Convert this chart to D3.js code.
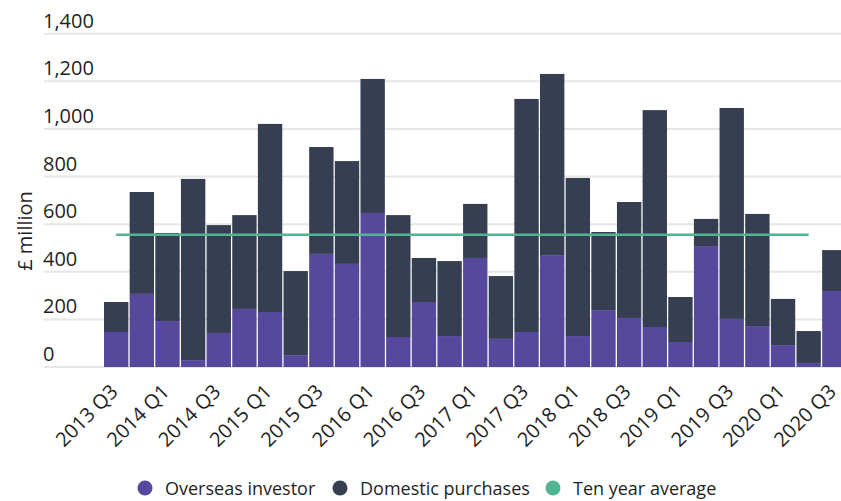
<!DOCTYPE html>
<html>
<head>
<meta charset="utf-8">
<script src="https://cdnjs.cloudflare.com/ajax/libs/d3/7.8.5/d3.min.js"></script>
<style>
  body { margin: 0; background: #fff; }
  svg { display: block; font-family: "Open Sans", sans-serif; }
  .tick-label { font-size: 20px; fill: #1f1f1f; }
  .legend-label { font-size: 18px; fill: #1f1f1f; }
</style>
</head>
<body>
<script>
var width = 841;
var height = 501;

// data, £ million
var quarters = ["2013 Q3","2013 Q4","2014 Q1","2014 Q2","2014 Q3","2014 Q4","2015 Q1","2015 Q2",
                "2015 Q3","2015 Q4","2016 Q1","2016 Q2","2016 Q3","2016 Q4","2017 Q1","2017 Q2",
                "2017 Q3","2017 Q4","2018 Q1","2018 Q2","2018 Q3","2018 Q4","2019 Q1","2019 Q2",
                "2019 Q3","2019 Q4","2020 Q1","2020 Q2","2020 Q3"];
var overseas = [147, 307, 193, 29, 143, 244, 231, 50, 475, 433, 647, 126, 273, 130, 458, 118,
                147, 470, 130, 239, 206, 168, 105, 508, 202, 172, 92, 17, 319];
var domestic = [126, 428, 370, 761, 453, 394, 790, 353, 449, 432, 563, 512, 185, 315, 227, 264,
                979, 761, 664, 328, 487, 911, 189, 114, 886, 471, 194, 134, 172];
var tenYearAvg = [556, 556, 556, 556, 556, 556, 556, 556, 556, 556, 556, 556, 556, 556, 556, 556,
                  556, 556, 556, 556, 556, 556, 556, 556, 556, 556, 556, 556, null];
var yTicks = [0, 200, 400, 600, 800, 1000, 1200, 1400];
var xLabels = quarters.filter(function(d, i) { return i % 2 == 0; });

var legendItems = [
  { name: "Overseas investor", color: "#56499d" },
  { name: "Domestic purchases", color: "#353f51" },
  { name: "Ten year average", color: "#4fb592" }
];

var svg = d3.select("body").append("svg")
  .attr("width", width)
  .attr("height", height);

var x = d3.scaleBand()
  .domain(quarters)
  .range([104, 846.5])
  .paddingInner(0.05)
  .paddingOuter(0);

var y = d3.scaleLinear()
  .domain([0, 1400])
  .range([367, 33.7]);

// gridlines + labels
var grid = svg.append("g");
grid.selectAll("line")
  .data(yTicks)
  .enter()
  .append("line")
  .attr("x1", 44)
  .attr("x2", width)
  .attr("y1", function(d) { return y(d); })
  .attr("y2", function(d) { return y(d); })
  .attr("stroke", "#e6e6e6")
  .attr("stroke-width", 2);

grid.selectAll("text")
  .data(yTicks)
  .enter()
  .append("text")
  .attr("class", "tick-label")
  .attr("x", 43)
  .attr("y", function(d) { return y(d) - 6; })
  .text(function(d) { return d3.format(",")(d); });

svg.append("text")
  .attr("class", "tick-label")
  .attr("transform", "translate(32,231) rotate(-90)")
  .attr("text-anchor", "middle")
  .text("£ million");

// stacked bars
var rows = quarters.map(function(q, i) {
  return { quarter: q, overseas: overseas[i], domestic: domestic[i] };
});
var stack = d3.stack().keys(["overseas", "domestic"]);
var series = stack(rows);

svg.append("g")
  .selectAll("g")
  .data(series)
  .enter()
  .append("g")
  .attr("fill", function(d, i) { return legendItems[i].color; })
  .selectAll("rect")
  .data(function(d) { return d; })
  .enter()
  .append("rect")
  .attr("x", function(d) { return x(d.data.quarter); })
  .attr("width", x.bandwidth())
  .attr("y", function(d) { return y(d[1]); })
  .attr("height", function(d) { return y(d[0]) - y(d[1]); });

// ten year average
var line = d3.line()
  .defined(function(d) { return d != null; })
  .x(function(d, i) { return x(quarters[i]) + x.bandwidth() / 2; })
  .y(function(d) { return y(d); });

svg.append("path")
  .datum(tenYearAvg)
  .attr("fill", "none")
  .attr("stroke", legendItems[2].color)
  .attr("stroke-width", 2.5)
  .attr("d", line);

// x labels
svg.append("g")
  .selectAll("text")
  .data(xLabels)
  .enter()
  .append("text")
  .attr("class", "tick-label")
  .attr("text-anchor", "end")
  .attr("transform", function(d) {
    return "translate(" + (x(d) + x.bandwidth() / 2 + 3) + ",393) rotate(-45)";
  })
  .text(function(d) { return d; });

// legend
var legendX = [145, 340, 553];
var legend = svg.append("g")
  .selectAll("g")
  .data(legendItems)
  .enter()
  .append("g")
  .attr("transform", function(d, i) { return "translate(" + legendX[i] + ",488)"; });

legend.append("circle")
  .attr("r", 7.5)
  .attr("fill", function(d) { return d.color; });

legend.append("text")
  .attr("class", "legend-label")
  .attr("x", 20)
  .attr("y", 6.5)
  .text(function(d) { return d.name; });
</script>
</body>
</html>
